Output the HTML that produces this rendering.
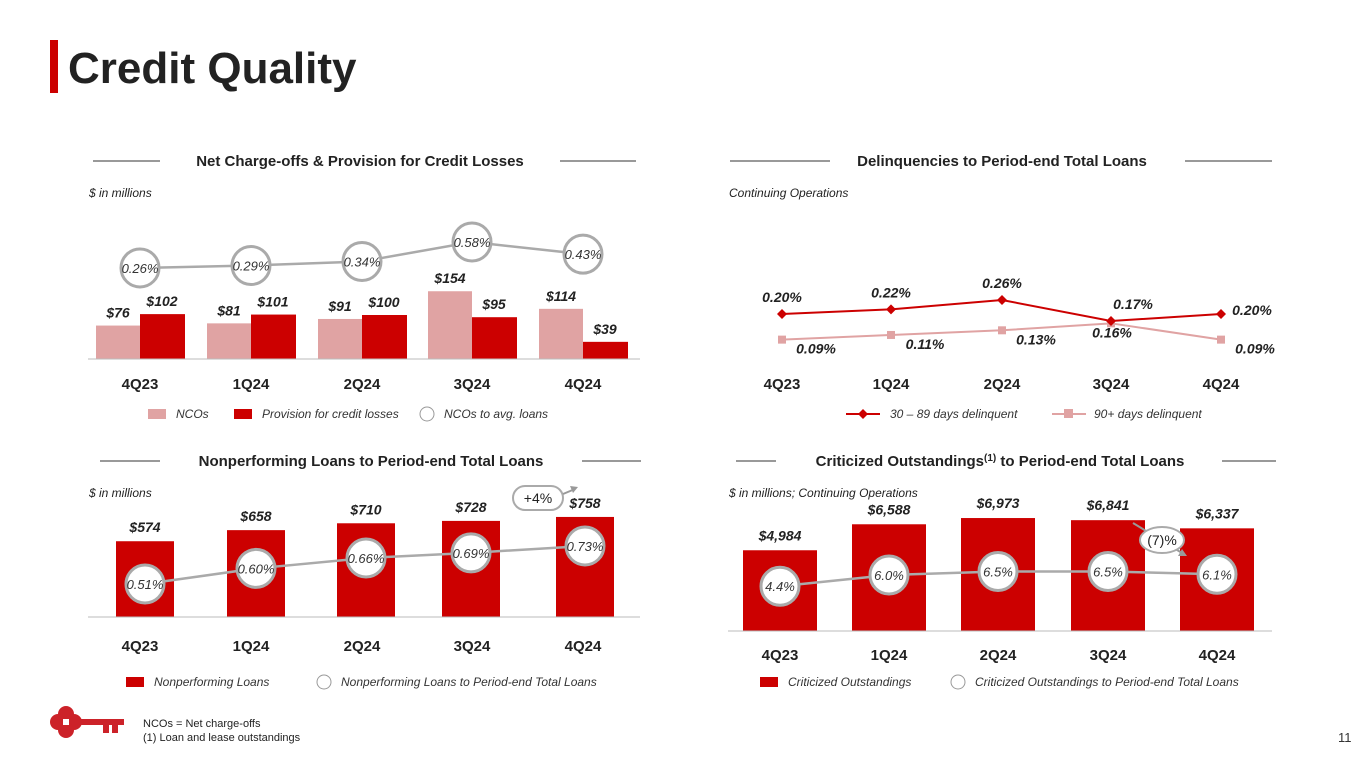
<!DOCTYPE html>
<html><head><meta charset="utf-8"><style>
html,body{margin:0;padding:0;background:#fff;}
svg{display:block;font-family:"Liberation Sans",Arial,sans-serif;}
</style></head><body>
<svg id="s" width="1365" height="768" viewBox="0 0 1365 768">
<rect x="50" y="40" width="8" height="53" fill="#cc0000"/>
<text x="68" y="83" font-size="44" font-weight="bold" fill="#222">Credit Quality</text>
<text x="1338" y="742" font-size="13" fill="#333">11</text>
<g fill="#cc2229">
<circle cx="66" cy="714" r="8"/><circle cx="58" cy="722" r="8"/><circle cx="74" cy="722" r="8"/><circle cx="66" cy="730" r="8"/>
<rect x="72" y="719" width="52" height="6"/><rect x="103" y="723" width="6" height="10"/><rect x="112" y="723" width="6" height="10"/>
<rect x="63" y="719" width="6" height="6" fill="#fff"/></g>
<text x="143" y="727" font-size="11" fill="#222">NCOs = Net charge-offs</text>
<text x="143" y="741" font-size="11" fill="#222">(1) Loan and lease outstandings</text>
</svg>
<script>
const cats=["4Q23","1Q24","2Q24","3Q24","4Q24"];
const ncos=[76,81,91,154,114];
const provision=[102,101,100,95,39];
const ncoRatio=[0.26,0.29,0.34,0.58,0.43];
const delinq30=[0.20,0.22,0.26,0.17,0.20];
const delinq90=[0.09,0.11,0.13,0.16,0.09];
const npl=[574,658,710,728,758];
const nplRatio=[0.51,0.60,0.66,0.69,0.73];
const crit=[4984,6588,6973,6841,6337];
const critRatio=[4.4,6.0,6.5,6.5,6.1];

const S=document.getElementById('s');
const NS='http://www.w3.org/2000/svg';
function mk(tag,at,txt){const e=document.createElementNS(NS,tag);for(const k in at)e.setAttribute(k,at[k]);if(txt!==undefined)e.textContent=txt;S.appendChild(e);return e;}
const RED='#cc0000',PINK='#e0a3a3',GR='#aaaaaa';
function fmt(v){return '$'+v.toLocaleString('en-US');}

function header(title,cx,y,l1,l2,sub,subx){
  let t=mk('text',{x:cx,y:y,'font-size':15,'font-weight':'bold','text-anchor':'middle',fill:'#222'},title);
  
  
  let a=mk('line',{x1:l1[0],x2:l1[1],y1:y-5,y2:y-5,stroke:'#333','stroke-width':1});
  
  
  let b=mk('line',{x1:l2[0],x2:l2[1],y1:y-5,y2:y-5,stroke:'#333','stroke-width':1});
  
  
  let s=mk('text',{x:subx,y:y+31,'font-size':12,'font-style':'italic',fill:'#222'},sub);
  
  
  return t;
}
function catLabels(xs,y){cats.forEach((c,i)=>{let t=mk('text',{x:xs[i],y:y,'font-size':15,'font-weight':'bold','text-anchor':'middle',fill:'#222'},c);
  
  });}
function bubbles(pts,vals,pct2,r){
  let d=pts.map((p,i)=>(i?'L':'M')+p[0]+' '+p[1]).join(' ');
  let l=mk('path',{d:d,stroke:GR,'stroke-width':2.5,fill:'none'});
  
  
  pts.forEach((p,i)=>{let c=mk('circle',{cx:p[0],cy:p[1],r:r,fill:'#fff',stroke:'#aaa','stroke-width':3});
    
    
    let t=mk('text',{x:p[0],y:p[1]+5,'font-size':13,'font-style':'italic','text-anchor':'middle',fill:'#333'},vals[i].toFixed(pct2?2:1)+'%');
    
    });
}
function legendBox(x,y,col,label){
  let r=mk('rect',{x:x,y:y-9,width:18,height:10,fill:col});
  
  
  let t=mk('text',{x:x+28,y:y,'font-size':12,'font-style':'italic',fill:'#333'},label);
  
  
}
function legendCircle(x,y,label){
  let c=mk('circle',{cx:x,cy:y-4,r:7,fill:'#fff',stroke:'#999','stroke-width':1});
  
  
  let t=mk('text',{x:x+17,y:y,'font-size':12,'font-style':'italic',fill:'#333'},label);
  
  
}

// Chart 1
header('Net Charge-offs & Provision for Credit Losses',360,166,[93,160],[560,636],'$ in millions',89);
const x1=[140,251,362,472,583];
const base1=359, k1=0.44;
const y1r=v=>289-81*v;
x1.forEach((cx,i)=>{
  let h=ncos[i]*k1;
  let b=mk('rect',{x:cx-44,y:base1-h,width:44,height:h,fill:PINK});
  
  
  let t=mk('text',{x:cx-22,y:base1-h-8,'font-size':14,'font-weight':'bold','font-style':'italic','text-anchor':'middle',fill:'#222'},fmt(ncos[i]));
  
  
  let h2=provision[i]*k1;
  let b2=mk('rect',{x:cx,y:base1-h2,width:45,height:h2,fill:RED});
  
  
  let t2=mk('text',{x:cx+22,y:base1-h2-8,'font-size':14,'font-weight':'bold','font-style':'italic','text-anchor':'middle',fill:'#222'},fmt(provision[i]));
  
  
});
let ax1=mk('line',{x1:88,x2:640,y1:base1,y2:base1,stroke:'#bbb'});


bubbles(x1.map((x,i)=>[x,y1r(ncoRatio[i])]),ncoRatio,true,19);
catLabels(x1,389);
legendBox(148,418,PINK,'NCOs');legendBox(234,418,RED,'Provision for credit losses');legendCircle(427,418,'NCOs to avg. loans');

// Chart 2
header('Delinquencies to Period-end Total Loans',1002,166,[730,830],[1185,1272],'Continuing Operations',729);
const x2=[782,891,1002,1111,1221];
const y2=v=>360.6-233*v;
let p90=mk('path',{d:x2.map((x,i)=>(i?'L':'M')+x+' '+y2(delinq90[i])).join(' '),stroke:PINK,'stroke-width':2,fill:'none'});


let p30=mk('path',{d:x2.map((x,i)=>(i?'L':'M')+x+' '+y2(delinq30[i])).join(' '),stroke:RED,'stroke-width':2,fill:'none'});


x2.forEach((x,i)=>{
  let yy=y2(delinq90[i]);
  let m=mk('rect',{x:x-4,y:yy-4,width:8,height:8,fill:PINK});
  
  
  let ddx=i===3?1:34;
  let t=mk('text',{x:x+ddx,y:yy+14,'font-size':14,'font-weight':'bold','font-style':'italic','text-anchor':'middle',fill:'#222'},delinq90[i].toFixed(2)+'%');
  
  
  let y3=y2(delinq30[i]);
  let d=mk('path',{d:`M${x} ${y3-5}L${x+5} ${y3}L${x} ${y3+5}L${x-5} ${y3}Z`,fill:RED});
  
  
  let dx= i>=3?22:0, dy=-12;
  if(i===4){dx=31;dy=1;}
  let t2=mk('text',{x:x+dx,y:y3+dy,'font-size':14,'font-weight':'bold','font-style':'italic','text-anchor':'middle',fill:'#222'},delinq30[i].toFixed(2)+'%');
  
  
});
catLabels(x2,389);
let lg1=mk('line',{x1:846,x2:880,y1:414,y2:414,stroke:RED,'stroke-width':2});
mk('path',{d:'M863 409L868 414L863 419L858 414Z',fill:RED});
let lt1=mk('text',{x:890,y:418,'font-size':12,'font-style':'italic',fill:'#333'},'30 – 89 days delinquent');
let lg2=mk('line',{x1:1052,x2:1086,y1:414,y2:414,stroke:PINK,'stroke-width':2});
mk('rect',{x:1064,y:409,width:9,height:9,fill:PINK});
let lt2=mk('text',{x:1094,y:418,'font-size':12,'font-style':'italic',fill:'#333'},'90+ days delinquent');

// Chart 3
header('Nonperforming Loans to Period-end Total Loans',371,466,[100,160],[582,641],'$ in millions',89);
const x3=[145,256,366,471,585];
const base3=617,k3=0.132;
const y3r=v=>584-173*(v-0.51);
x3.forEach((cx,i)=>{
  let h=npl[i]*k3;
  let b=mk('rect',{x:cx-29,y:base3-h,width:58,height:h,fill:RED});
  
  
  let t=mk('text',{x:cx,y:base3-h-9,'font-size':14,'font-weight':'bold','font-style':'italic','text-anchor':'middle',fill:'#222'},fmt(npl[i]));
  
  
});
let ax3=mk('line',{x1:88,x2:640,y1:base3,y2:base3,stroke:'#bbb'});
bubbles(x3.map((x,i)=>[x,y3r(nplRatio[i])]),nplRatio,true,19);
catLabels([140,251,362,472,583],651);
let an1=mk('rect',{x:513,y:486,width:50,height:24,rx:12,fill:'#fff',stroke:'#aaa','stroke-width':2});
let at1=mk('text',{x:538,y:503,'font-size':14,'text-anchor':'middle',fill:'#222'},'+4%');
mk('path',{d:'M563 494L575 489',stroke:'#999','stroke-width':2,fill:'none'});
mk('path',{d:'M578 487L570 486L573 493Z',fill:'#999'});
legendBox(126,686,RED,'Nonperforming Loans');legendCircle(324,686,'Nonperforming Loans to Period-end Total Loans');

// Chart 4
const t4=header('',1000,466,[736,776],[1222,1276],'$ in millions; Continuing Operations',729);
const a4=document.createElementNS(NS,'tspan');a4.textContent='Criticized Outstandings';t4.appendChild(a4);
const b4=document.createElementNS(NS,'tspan');b4.setAttribute('font-size','10');b4.setAttribute('dy','-5');b4.textContent='(1)';t4.appendChild(b4);
const c4=document.createElementNS(NS,'tspan');c4.setAttribute('dy','5');c4.textContent=' to Period-end Total Loans';t4.appendChild(c4);
const x4=[780,889,998,1108,1217];
const base4=631,k4=0.0162;
const y4r=v=>617-7*v;
x4.forEach((cx,i)=>{
  let h=crit[i]*k4;
  let b=mk('rect',{x:cx-37,y:base4-h,width:74,height:h,fill:RED});
  
  
  let t=mk('text',{x:cx,y:base4-h-10,'font-size':14,'font-weight':'bold','font-style':'italic','text-anchor':'middle',fill:'#222'},fmt(crit[i]));
  
  
});
let ax4=mk('line',{x1:728,x2:1272,y1:base4,y2:base4,stroke:'#bbb'});
bubbles(x4.map((x,i)=>[x,y4r(critRatio[i])]),critRatio,false,19);
catLabels(x4,660);
mk('path',{d:'M1133 523L1182 553',stroke:'#999','stroke-width':2,fill:'none'});
mk('path',{d:'M1187 556L1178 556L1182 549Z',fill:'#999'});
let an2=mk('ellipse',{cx:1162,cy:540,rx:22,ry:13,fill:'#fff',stroke:'#aaa','stroke-width':2});
let at2=mk('text',{x:1162,y:545,'font-size':14,'text-anchor':'middle',fill:'#222'},'(7)%');
legendBox(760,686,RED,'Criticized Outstandings');legendCircle(958,686,'Criticized Outstandings to Period-end Total Loans');
</script>
</body></html>
